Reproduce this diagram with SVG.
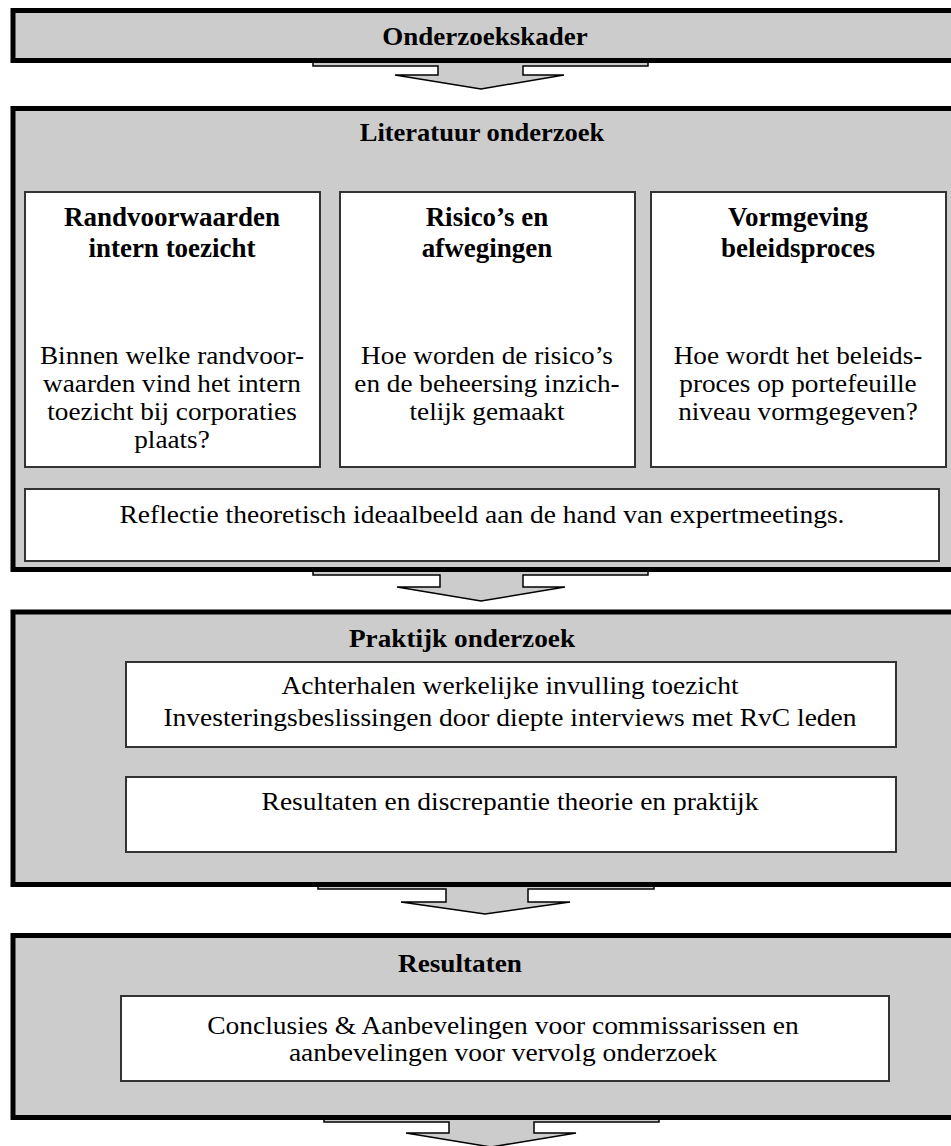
<svg xmlns="http://www.w3.org/2000/svg" width="951" height="1146" viewBox="0 0 951 1146">
  <style>
    .panel { fill: #cccccc; stroke: #000000; stroke-width: 5; }
    .card { fill: #ffffff; stroke: #333333; stroke-width: 2; }
    .flow { fill: #cccccc; stroke: #000000; stroke-width: 1.5; stroke-linejoin: miter; }
    text { font-family: "Liberation Serif", "Times New Roman", serif; fill: #000000; text-anchor: middle; }
    .head { font-size: 25px; font-weight: bold; }
    .title { font-size: 27px; font-weight: bold; }
    .body { font-size: 25px; }
  </style>

  <rect width="951" height="1146" fill="#ffffff"/>

  <!-- block arrows between the stages (drawn first, panels overlap their top bars) -->
  <g id="connectors">
    <polygon class="flow" points="313,58 313,66 438,66 438,75 395,75 481,89 564,75 523,75 523,66 648,66 648,58"/>
    <polygon class="flow" points="313,567 313,575 440,575 440,587 397,587 481,601 565,587 523,587 523,575 648,575 648,567"/>
    <polygon class="flow" points="318,882 318,889 446,889 446,902 401,902 485,914 570,902 528,902 528,889 654,889 654,882"/>
    <polygon class="flow" points="324,1115 324,1122 449,1122 449,1133 406,1133 491,1147 576,1133 534,1133 534,1122 659,1122 659,1115"/>
  </g>

  <!-- stage 1 -->
  <g id="onderzoekskader">
    <rect class="panel" x="13" y="10.5" width="950" height="50"/>
    <text class="head" transform="translate(485 45) scale(1.08 1)">Onderzoekskader</text>
  </g>

  <!-- stage 2 -->
  <g id="literatuur-onderzoek">
    <rect class="panel" x="13" y="108.5" width="950" height="461"/>
    <text class="head" transform="translate(482 141) scale(1.06 1)">Literatuur onderzoek</text>
  </g>

  <g id="randvoorwaarden">
    <rect class="card" x="25" y="192" width="295" height="275"/>
    <text class="title" x="172" y="226">Randvoorwaarden</text>
    <text class="title" x="172" y="257">intern toezicht</text>
    <text class="body" transform="translate(172 364) scale(1.09 1)">Binnen welke randvoor-</text>
    <text class="body" transform="translate(172 392) scale(1.09 1)">waarden vind het intern</text>
    <text class="body" transform="translate(172 420) scale(1.09 1)">toezicht bij corporaties</text>
    <text class="body" transform="translate(172 448) scale(1.09 1)">plaats?</text>
  </g>

  <g id="risicos">
    <rect class="card" x="340" y="192" width="295" height="275"/>
    <text class="title" x="487" y="226">Risico’s en</text>
    <text class="title" x="487" y="257">afwegingen</text>
    <text class="body" transform="translate(487 364) scale(1.09 1)">Hoe worden de risico’s</text>
    <text class="body" transform="translate(487 392) scale(1.09 1)">en de beheersing inzich-</text>
    <text class="body" transform="translate(487 420) scale(1.09 1)">telijk gemaakt</text>
  </g>

  <g id="vormgeving">
    <rect class="card" x="651" y="192" width="295" height="275"/>
    <text class="title" x="798" y="226">Vormgeving</text>
    <text class="title" x="798" y="257">beleidsproces</text>
    <text class="body" transform="translate(798 364) scale(1.09 1)">Hoe wordt het beleids-</text>
    <text class="body" transform="translate(798 392) scale(1.09 1)">proces op portefeuille</text>
    <text class="body" transform="translate(798 420) scale(1.09 1)">niveau vormgegeven?</text>
  </g>

  <g id="reflectie">
    <rect class="card" x="25" y="489" width="914" height="72"/>
    <text class="body" transform="translate(482 523) scale(1.1 1)">Reflectie theoretisch ideaalbeeld aan de hand van expertmeetings.</text>
  </g>

  <!-- stage 3 -->
  <g id="praktijk-onderzoek">
    <rect class="panel" x="13" y="612" width="950" height="272.5"/>
    <text class="head" transform="translate(462 647) scale(1.09 1)">Praktijk onderzoek</text>
  </g>

  <g id="interviews">
    <rect class="card" x="126" y="662" width="770" height="85"/>
    <text class="body" transform="translate(510 694) scale(1.1 1)">Achterhalen werkelijke invulling toezicht</text>
    <text class="body" transform="translate(510 726) scale(1.1 1)">Investeringsbeslissingen door diepte interviews met RvC leden</text>
  </g>

  <g id="discrepantie">
    <rect class="card" x="126" y="777" width="770" height="75"/>
    <text class="body" transform="translate(510 810) scale(1.1 1)">Resultaten en discrepantie theorie en praktijk</text>
  </g>

  <!-- stage 4 -->
  <g id="resultaten">
    <rect class="panel" x="13" y="935.5" width="950" height="182"/>
    <text class="head" transform="translate(460 972) scale(1.09 1)">Resultaten</text>
  </g>

  <g id="conclusies">
    <rect class="card" x="121" y="996" width="768" height="85"/>
    <text class="body" transform="translate(503 1034) scale(1.1 1)">Conclusies &amp; Aanbevelingen voor commissarissen en</text>
    <text class="body" transform="translate(503 1061) scale(1.1 1)">aanbevelingen voor vervolg onderzoek</text>
  </g>
</svg>
